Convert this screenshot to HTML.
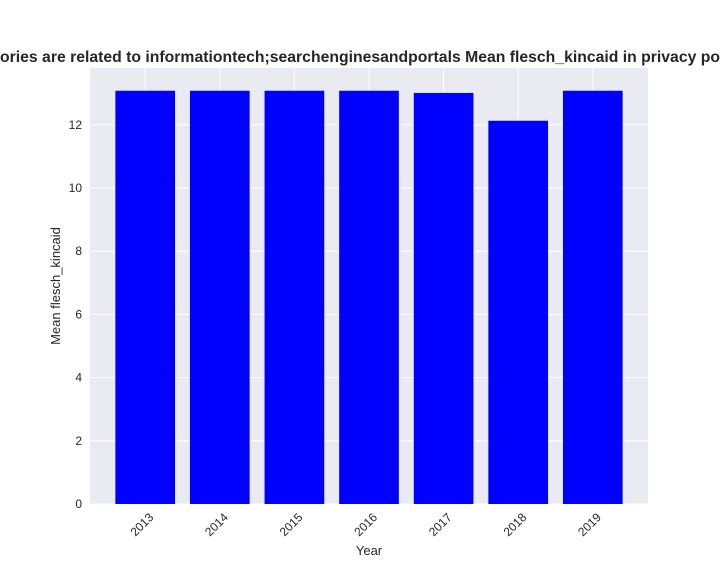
<!DOCTYPE html>
<html><head><meta charset="utf-8"><style>
body{margin:0;background:#fff;}
svg{display:block;font-family:"Liberation Sans","DejaVu Sans",sans-serif;}
</style></head><body>
<svg id="chart" width="720" height="576">
<rect x="90" y="68" width="558" height="436" fill="#eaeaf2"/>
<g id="grid"></g><g id="bars"></g><g id="ticks"></g>
<text x="360" y="62" text-anchor="middle" font-size="16" font-weight="bold" fill="#262626" textLength="720" lengthAdjust="spacingAndGlyphs">ories are related to informationtech;searchenginesandportals Mean flesch_kincaid in privacy po</text>
<text x="369" y="555" text-anchor="middle" font-size="13" fill="#262626">Year</text>
<text transform="translate(60,286) rotate(-90)" text-anchor="middle" font-size="13" fill="#262626">Mean flesch_kincaid</text>
</svg>
<script>
const categories=["2013","2014","2015","2016","2017","2018","2019"];
const values=[13.08,13.08,13.08,13.08,13.01,12.13,13.08];
const yTicks=[0,2,4,6,8,10,12];
const NS="http://www.w3.org/2000/svg";
const L=90,R=648,T=68,B=504,ymax=13.8;
const xmin=-0.74,xmax=categories.length-1+0.74;
function xs(i){return L+(i-xmin)/(xmax-xmin)*(R-L);}
function ys(v){return B-v/ymax*(B-T);}
const unit=(R-L)/(xmax-xmin);
function mk(tag,attrs,parent){const e=document.createElementNS(NS,tag);for(const k in attrs)e.setAttribute(k,attrs[k]);document.getElementById(parent).appendChild(e);return e;}
yTicks.forEach(t=>{
 const y=ys(t);
 const g=mk("line",{x1:L,x2:R,y1:y,y2:y,stroke:"#fff","stroke-width":1},"grid");
 
 
 const tx=mk("text",{x:L-8,y:y+4,"text-anchor":"end","font-size":12,fill:"#262626"},"ticks");
 tx.textContent=t;
 
 
});
categories.forEach((c,i)=>{
 const x=xs(i);
 const g=mk("line",{x1:x,x2:x,y1:T,y2:B,stroke:"#fff","stroke-width":1},"grid");
 
 
 const w=0.8*unit;
 const b=mk("rect",{x:x-w/2,y:ys(values[i]),width:w,height:B-ys(values[i]),fill:"#0000ff"},"bars");
 
 
 const tx=mk("text",{x:0,y:0,"text-anchor":"end","font-size":12,fill:"#262626",transform:`translate(${x+9},${B+14}) rotate(-45)`},"ticks");
 tx.textContent=c;
 
 
});
</script>
</body></html>
